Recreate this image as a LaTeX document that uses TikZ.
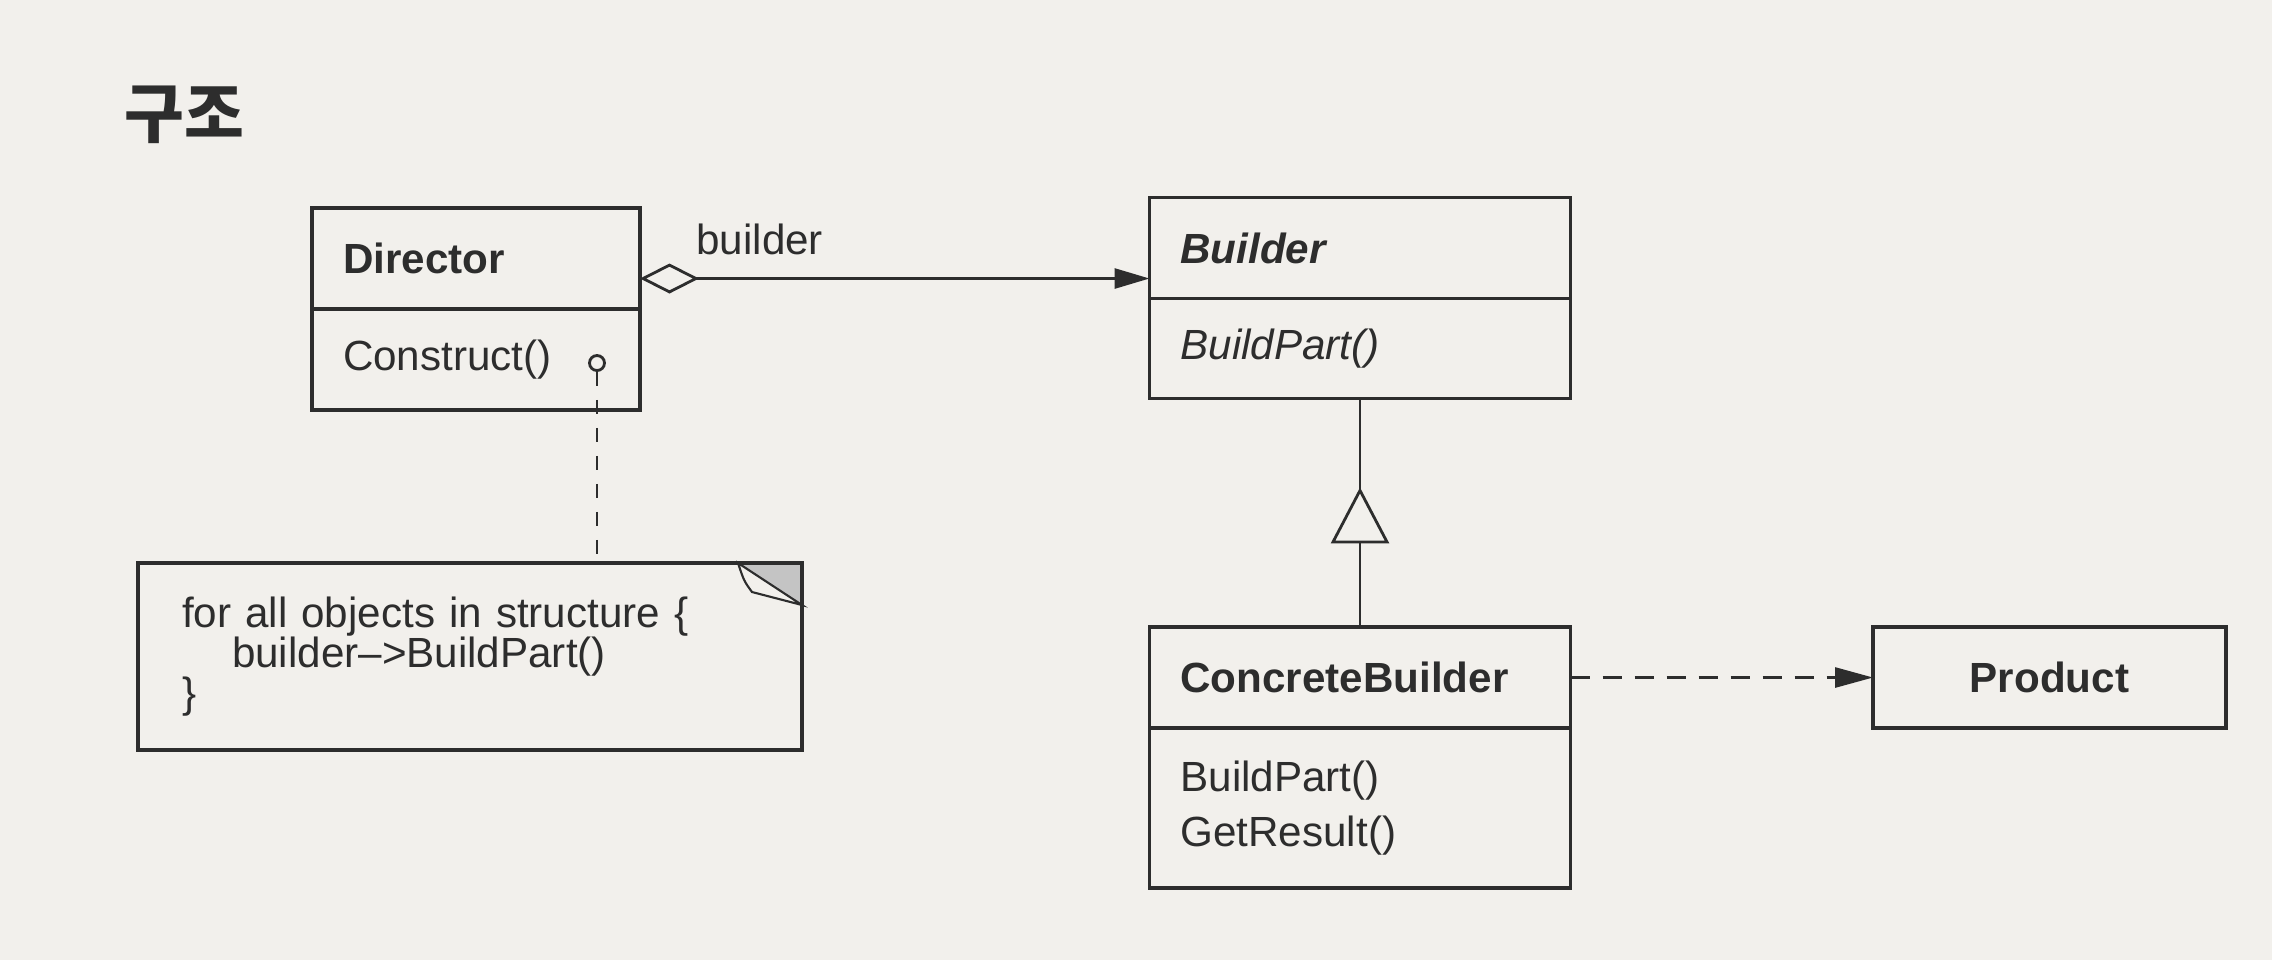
\documentclass[tikz,border=0pt]{standalone}
\usepackage{fontspec}
\setmainfont{Liberation Sans}
\newfontfamily\hangul{Noto Sans CJK KR}
\usetikzlibrary{positioning, arrows.meta, decorations.markings}

\definecolor{paper}{RGB}{242,240,236}
\definecolor{ink}{RGB}{45,45,45}
\definecolor{fold}{RGB}{196,196,196}
\newcommand{\umlfont}{\fontsize{12}{15.6}\selectfont}

\begin{document}
\begin{tikzpicture}[
    % Styles for the class boxes, the note and the links
    classbox/.style={
        draw=ink,
        text=ink,
        line width=0.9pt,
        outer sep=0pt,
        inner xsep=0.31cm,
        inner ysep=0pt,
        align=left,
        text width=#1,
        font=\umlfont
    },
    headbox/.style={
        classbox=#1,
        minimum height=1.01cm,
        font=\umlfont\bfseries
    },
    notebox/.style={
        draw=ink,
        text=ink,
        line width=0.9pt,
        outer sep=0pt,
        minimum height=1.87cm,
        text width=5.76cm,
        inner xsep=0.44cm,
        align=left,
        font={\fontsize{12}{11.4}\selectfont\lineskiplimit=-10pt}
    },
    hook/.style={
        circle,
        draw=ink,
        line width=0.8pt,
        minimum size=0.15cm,
        inner sep=0pt
    },
    aggregation/.style={
        draw=ink,
        line width=0.8pt,
        {Diamond[open, length=5.9mm, width=3mm]}-{Triangle[length=3.5mm, width=2mm]}
    },
    generalization/.style={
        draw=ink,
        line width=0.8pt,
        postaction={decorate},
        decoration={markings,
            mark=at position 0.611 with {\arrow{Triangle[length=5.6mm, width=5.8mm, fill=paper, line width=0.8pt]}}}
    },
    dependency/.style={
        draw=ink,
        line width=0.8pt,
        dash pattern=on 1.9mm off 1.3mm,
        -{Triangle[length=3.8mm, width=2mm]}
    },
    notelink/.style={
        draw=ink,
        line width=0.8pt,
        dash pattern=on 1.4mm off 1.4mm
    }
]
    \path[use as bounding box, fill=paper] (0,0) rectangle (22.72,-9.6);

    % --- 1. Place Nodes ---
    \node[text=ink, inner sep=0pt, font=\hangul\bfseries\fontsize{18.5}{20}\selectfont] (title) at (1.84,-1.15) {구조};

    % Director
    \node[headbox=2.66cm] (dir-head) at (4.76,-2.585) {Director};
    \node[classbox=2.66cm, minimum height=1.01cm] (dir-body) [below=0pt of dir-head] {Construct()};
    \node[hook] (dir-hook) at (5.97,-3.63) {};

    % Builder (abstract)
    \node[headbox=3.59cm, font=\umlfont\bfseries\itshape] (bld-head) at (13.6,-2.48) {Builder};
    \node[classbox=3.59cm, minimum height=1.0cm, font=\umlfont\itshape] (bld-body) [below=0pt of bld-head] {BuildPart()};

    % ConcreteBuilder
    \node[headbox=3.59cm] (cb-head) at (13.6,-6.775) {ConcreteBuilder};
    \node[classbox=3.59cm, minimum height=1.6cm] (cb-body) [below=0pt of cb-head] {BuildPart()\\GetResult()};

    % Product
    \node[headbox=2.91cm, align=center] (prod) at (20.495,-6.775) {Product};

    % note
    \node[notebox] (note) at (4.70,-6.565) {for all objects in structure \{\\\hspace*{0.5cm}builder--{>}BuildPart()\\\}};

    % --- 2. Draw Edges ---

    % Director <>--> Builder
    \draw[aggregation] ([yshift=-0.2cm]dir-head.east) -- node[pos=0.235, above=0.1cm, text=ink, font=\umlfont] (role) {builder} ([yshift=-0.2cm]dir-head.east -| bld-head.west);

    % ConcreteBuilder --|> Builder
    \draw[generalization] (cb-head.north) -- (bld-body.south);

    % ConcreteBuilder - - > Product
    \draw[dependency] (cb-head.east) -- (prod.west);

    % Construct() - - note
    \draw[notelink] (dir-hook.south) -- (dir-hook.south |- note.north);

    % dog-ear of the note
    \filldraw[fill=fold, draw=ink, line width=0.9pt] ([xshift=-0.64cm]note.north east) -- (note.north east) -- ([yshift=-0.42cm]note.north east);
    \filldraw[fill=paper, draw=ink, line width=0.6pt] ([xshift=-0.64cm]note.north east)
        .. controls ([shift={(-0.58cm,-0.18cm)}]note.north east) .. ([shift={(-0.5cm,-0.29cm)}]note.north east)
        -- ([yshift=-0.42cm]note.north east) -- cycle;

\end{tikzpicture}
\end{document}
